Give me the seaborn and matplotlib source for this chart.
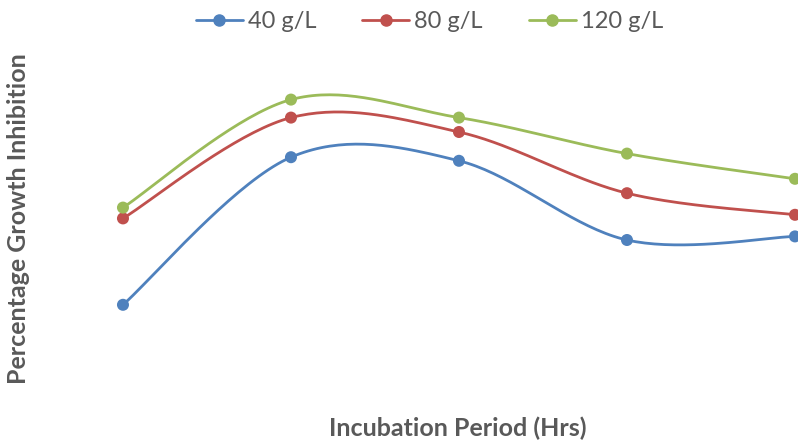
import numpy as np
import pandas as pd
import matplotlib
matplotlib.use("Agg")
import matplotlib.pyplot as plt
from matplotlib.lines import Line2D
import seaborn as sns

# Incubation periods (category positions) and growth inhibition per concentration
periods = [1, 2, 3, 4, 5]
series_names = ["40 g/L", "80 g/L", "120 g/L"]
inhib_40 = [32, 73, 72, 50, 51]
inhib_80 = [56, 84, 80, 63, 57]
inhib_120 = [59, 89, 84, 74, 67]
colors = ["#4F81BD", "#C0504D", "#9BBB59"]

sns.set_theme(style="white")
plt.rcParams["font.family"] = ["Lato", "DejaVu Sans"]


def smooth(xs, ys, n=40):
    """Cardinal (Catmull-Rom style) Bezier smoothing through every point."""
    xs = np.asarray(xs, float)
    ys = np.asarray(ys, float)
    px = np.concatenate([[xs[0]], xs, [xs[-1]]])
    py = np.concatenate([[ys[0]], ys, [ys[-1]]])
    out_x, out_y = [], []
    t = np.linspace(0, 1, n)
    for i in range(1, len(px) - 2):
        p0 = np.array([px[i], py[i]])
        p3 = np.array([px[i + 1], py[i + 1]])
        c1 = p0 + (np.array([px[i + 1], py[i + 1]]) - np.array([px[i - 1], py[i - 1]])) / 6
        c2 = p3 - (np.array([px[i + 2], py[i + 2]]) - np.array([px[i], py[i]])) / 6
        b = ((1 - t) ** 3)[:, None] * p0 + (3 * (1 - t) ** 2 * t)[:, None] * c1 \
            + (3 * (1 - t) * t ** 2)[:, None] * c2 + (t ** 3)[:, None] * p3
        out_x.extend(b[:, 0])
        out_y.extend(b[:, 1])
    return out_x, out_y


points = pd.DataFrame({
    "period": periods * 3,
    "inhibition": inhib_40 + inhib_80 + inhib_120,
    "series": [s for s in series_names for _ in periods],
})

curves = []
for name, vals in zip(series_names, [inhib_40, inhib_80, inhib_120]):
    cx, cy = smooth(periods, vals)
    curves.append(pd.DataFrame({"period": cx, "inhibition": cy, "series": name}))
curves = pd.concat(curves, ignore_index=True)

fig = plt.figure(figsize=(7.98, 4.42), dpi=100)
ax = fig.add_axes([0, 22 / 442, 1, 360 / 442])

palette = dict(zip(series_names, colors))
sns.lineplot(data=curves, x="period", y="inhibition", hue="series", palette=palette,
             sort=False, estimator=None, linewidth=2.0, legend=False, ax=ax)
sns.scatterplot(data=points, x="period", y="inhibition", hue="series", palette=palette,
                s=75, edgecolor="none", legend=False, ax=ax, zorder=3)

ax.set_xlim(0.268, 5.018)
ax.set_ylim(0, 100)
ax.set_xlabel("")
ax.set_ylabel("")
ax.set_xticks([])
ax.set_yticks([])
for sp in ax.spines.values():
    sp.set_visible(False)

fig.text(0.574, 0.030, "Incubation Period (Hrs)", ha="center", va="center",
         fontsize=18, fontweight="bold", color="#595959")
fig.text(0.023, 0.505, "Percentage Growth Inhibition", ha="center", va="center",
         rotation=90, fontsize=18, fontweight="bold", color="#595959")

handles = [Line2D([0], [0], color=c, lw=2.0, marker="o", markersize=8) for c in colors]
fig.legend(handles, series_names, loc="center", bbox_to_anchor=(0.538, 0.951), ncol=3,
           frameon=False, fontsize=17, handlelength=2.0, handletextpad=0.2,
           columnspacing=1.95, labelcolor="#595959", borderpad=0, borderaxespad=0)

fig.savefig("out.png", dpi=100)
